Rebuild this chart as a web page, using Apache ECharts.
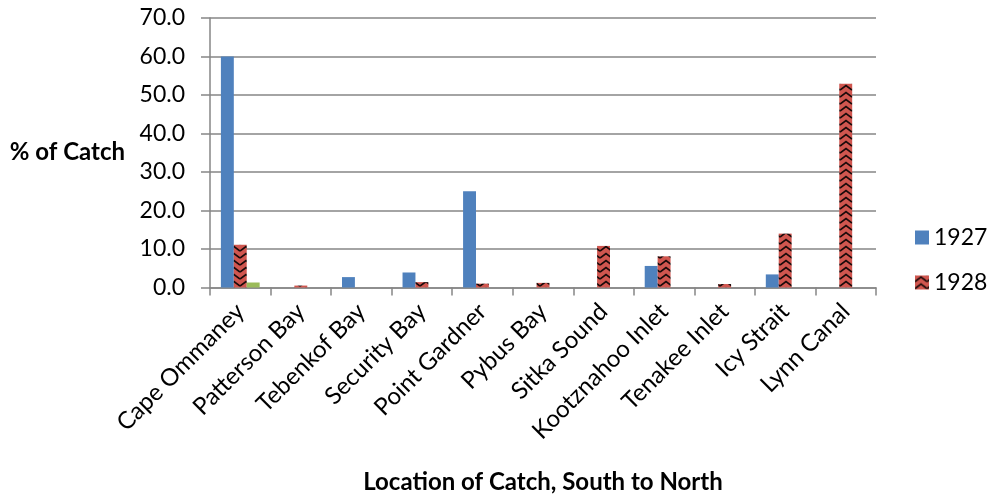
<!DOCTYPE html>
<html>
<head>
<meta charset="utf-8">
<script src="https://cdn.jsdelivr.net/npm/echarts@6/dist/echarts.min.js"></script>
<style>
  html, body { margin: 0; padding: 0; background: #ffffff; }
  #chart { width: 993px; height: 500px; }
</style>
</head>
<body>
<div id="chart"></div>
<script>
// Catch locations, ordered south to north
const locations = ['Cape Ommaney', 'Patterson Bay', 'Tebenkof Bay', 'Security Bay', 'Point Gardner',
  'Pybus Bay', 'Sitka Sound', 'Kootznahoo Inlet', 'Tenakee Inlet', 'Icy Strait', 'Lynn Canal'];

// Percent of catch per location
const catch1927 = [60.0, 0, 2.7, 3.9, 25.0, 0, 0, 5.6, 0, 3.4, 0];
const catch1928 = [11.1, 0.5, 0, 1.4, 1.0, 1.2, 10.8, 8.1, 0.9, 14.0, 52.9];
const catch1929 = [1.3, 0, 0, 0, 0, 0, 0, 0, 0, 0, 0];

const yTicks = { min: 0, max: 70, interval: 10 };

const FONT = 'Lato, "Open Sans", sans-serif';
const GRID_GRAY = '#868686';

// Red fill with black zig-zag hatching for the 1928 bars
function zigzagPattern() {
  const c = document.createElement('canvas');
  c.width = 12; c.height = 7;
  const g = c.getContext('2d');
  g.fillStyle = '#d0564f';
  g.fillRect(0, 0, 12, 7);
  g.strokeStyle = '#1a0a0a';
  g.lineWidth = 1.6;
  g.beginPath();
  g.moveTo(0, 6);
  g.lineTo(6, 1.5);
  g.lineTo(12, 6);
  g.stroke();
  return c;
}

const chart = echarts.init(document.getElementById('chart'), null, { renderer: 'canvas' });

chart.setOption({
  backgroundColor: '#ffffff',
  animation: false,
  textStyle: { fontFamily: FONT },
  grid: { left: 210, right: 117, top: 18, bottom: 212.5, containLabel: false, outerBoundsMode: 'none' },
  legend: {
    data: ['1927', '1928'],
    orient: 'vertical',
    left: 910,
    top: 221,
    itemWidth: 14,
    itemHeight: 14,
    itemGap: 22,
    icon: 'rect',
    textStyle: { fontFamily: FONT, fontSize: 23, color: '#000' }
  },
  xAxis: {
    type: 'category',
    data: locations,
    boundaryGap: true,
    axisLine: { show: true, lineStyle: { color: GRID_GRAY, width: 1.5 } },
    axisTick: { show: true, alignWithLabel: false, length: 8, lineStyle: { color: GRID_GRAY, width: 1.5 } },
    axisLabel: {
      interval: 0,
      rotate: 45,
      margin: 20,
      fontFamily: FONT,
      fontSize: 24,
      color: '#000'
    },
    name: 'Location of Catch, South to North',
    nameLocation: 'middle',
    nameGap: 183,
    nameTextStyle: { fontFamily: FONT, fontSize: 24, fontWeight: 'bold', color: '#000' }
  },
  yAxis: {
    type: 'value',
    min: yTicks.min,
    max: yTicks.max,
    interval: yTicks.interval,
    axisLine: { show: true, lineStyle: { color: GRID_GRAY, width: 1.5 } },
    axisTick: { show: true, inside: false, length: 9, lineStyle: { color: GRID_GRAY, width: 1.5 } },
    splitLine: { show: true, lineStyle: { color: GRID_GRAY, width: 1.5 } },
    axisLabel: {
      margin: 25,
      fontFamily: FONT,
      fontSize: 23,
      color: '#000',
      formatter: v => v.toFixed(1)
    },
    name: '% of Catch',
    nameLocation: 'middle',
    nameRotate: 0,
    nameGap: 85,
    nameTextStyle: { fontFamily: FONT, fontSize: 24, fontWeight: 'bold', color: '#000' }
  },
  series: [
    {
      name: '1927',
      type: 'bar',
      data: catch1927,
      barGap: '0%',
      barCategoryGap: '36%',
      itemStyle: { color: '#4f81bd' }
    },
    {
      name: '1928',
      type: 'bar',
      data: catch1928,
      barGap: '0%',
      barCategoryGap: '36%',
      itemStyle: { color: { image: zigzagPattern(), repeat: 'repeat' } }
    },
    {
      name: '1929',
      type: 'bar',
      data: catch1929,
      barGap: '0%',
      barCategoryGap: '36%',
      itemStyle: { color: '#9bbb59' }
    }
  ]
});
</script>
</body>
</html>
